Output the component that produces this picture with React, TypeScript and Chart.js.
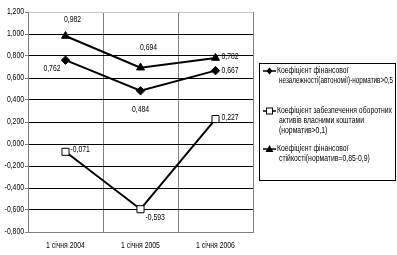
import React, { useEffect, useRef } from "react";
import { Chart, registerables } from "chart.js";

Chart.register(...registerables);

const categories = ["1 січня 2004", "1 січня 2005", "1 січня 2006"];
const autonomy = [0.762, 0.484, 0.667];
const workingCapital = [-0.071, -0.593, 0.227];
const stability = [0.982, 0.694, 0.782];
const seriesNames = [
  ["Коефіцієнт фінансової", "незалежності(автономії)-норматив>0,5"],
  ["Коефіцієнт забезпечення оборотних", "активів власними коштами", "(норматив>0,1)"],
  ["Коефіцієнт фінансової", "стійкості(норматив=0,85-0,9)"],
];

const FONT = '"Liberation Sans", Arial, sans-serif';
const SX = 0.76;

// label placement: [dx, dy, align]
const labelPos: [number, number, CanvasTextAlign][][] = [
  [[-5, 8, "right"], [0, 19, "center"], [6, 0, "left"]],
  [[5, -2, "left"], [5, 8, "left"], [6, -2, "left"]],
  [[7, -16, "center"], [8, -20, "center"], [6, -1, "left"]],
];

const fmt = (v: number) => v.toFixed(3).replace(".", ",");

function narrowText(ctx: CanvasRenderingContext2D, text: string, x: number, y: number, align: CanvasTextAlign, sx = SX) {
  ctx.save();
  ctx.translate(x, y);
  ctx.scale(sx, 1);
  ctx.textAlign = align;
  ctx.fillText(text, 0, 0);
  ctx.restore();
}

const textPlugin = {
  id: "texts",
  afterDatasetsDraw(chart: any) {
    const ctx = chart.ctx;
    ctx.save();
    ctx.font = `9px ${FONT}`;
    ctx.fillStyle = "#000";
    ctx.textBaseline = "middle";
    chart.data.datasets.forEach((ds: any, i: number) => {
      const meta = chart.getDatasetMeta(i);
      meta.data.forEach((pt: any, j: number) => {
        const [dx, dy, al] = labelPos[i][j];
        narrowText(ctx, fmt(ds.data[j]), pt.x + dx, pt.y + dy, al);
      });
    });
    const xs = chart.scales.x;
    const ys = chart.scales.y;
    xs.ticks.forEach((t: any, k: number) => {
      narrowText(ctx, String(chart.data.labels[k]), xs.getPixelForTick(k), 246, "center");
    });
    ys.ticks.forEach((t: any, k: number) => {
      narrowText(ctx, fmt(t.value), ys.left + 24, ys.getPixelForTick(k), "right");
    });
    ctx.restore();
  },
  afterDraw(chart: any) {
    const ctx = chart.ctx;
    ctx.save();
    const x0 = 259.5, y0 = 63.5, x1 = 395.5, y1 = 180.5;
    ctx.strokeStyle = "#000";
    ctx.lineWidth = 1;
    ctx.strokeRect(x0, y0, x1 - x0, y1 - y0);
    const starts = [71, 111, 149];
    ctx.font = `9px ${FONT}`;
    ctx.textBaseline = "middle";
    ctx.fillStyle = "#000";
    chart.data.datasets.forEach((ds: any, i: number) => {
      const y = starts[i];
      ctx.strokeStyle = "#000";
      ctx.lineWidth = 1.5;
      ctx.beginPath();
      ctx.moveTo(263, y);
      ctx.lineTo(276, y);
      ctx.stroke();
      const cx = 269.5;
      ctx.lineWidth = 1;
      if (i === 0) {
        ctx.fillStyle = "#000";
        ctx.beginPath();
        ctx.moveTo(cx, y - 3.5);
        ctx.lineTo(cx + 3, y);
        ctx.lineTo(cx, y + 3.5);
        ctx.lineTo(cx - 3, y);
        ctx.closePath();
        ctx.fill();
      } else if (i === 1) {
        ctx.fillStyle = "#fff";
        ctx.fillRect(cx - 3, y - 3, 6, 6);
        ctx.strokeRect(cx - 3, y - 3, 6, 6);
      } else {
        ctx.fillStyle = "#000";
        ctx.beginPath();
        ctx.moveTo(cx, y - 4);
        ctx.lineTo(cx + 4, y + 3);
        ctx.lineTo(cx - 4, y + 3);
        ctx.closePath();
        ctx.fill();
      }
      ctx.fillStyle = "#000";
      seriesNames[i].forEach((line, k) => {
        const tx = k === 0 ? 277 : 279;
        const w = ctx.measureText(line).width;
        const sx = Math.min(SX, (393 - tx) / w);
        narrowText(ctx, line, tx, y + k * 10, "left", sx);
      });
    });
    ctx.restore();
  },
};

export default function App() {
  const ref = useRef<HTMLCanvasElement>(null);
  useEffect(() => {
    if (!ref.current) return;
    const common = {
      borderColor: "#000",
      borderWidth: 2,
      pointBorderColor: "#000",
      pointBorderWidth: 1,
      tension: 0,
    };
    const chart = new Chart(ref.current, {
      type: "line",
      data: {
        labels: categories,
        datasets: [
          {
            ...common,
            label: seriesNames[0].join(" "),
            data: autonomy,
            pointStyle: "rectRot",
            pointRadius: 4.2,
            pointBackgroundColor: "#000",
          },
          {
            ...common,
            label: seriesNames[1].join(" "),
            data: workingCapital,
            pointStyle: "rect",
            pointRadius: 5,
            pointBackgroundColor: "#fff",
          },
          {
            ...common,
            label: seriesNames[2].join(" "),
            data: stability,
            pointStyle: "triangle",
            pointRadius: 4.6,
            pointBackgroundColor: "#000",
          },
        ],
      },
      options: {
        animation: false,
        responsive: false,
        maintainAspectRatio: false,
        layout: { padding: { top: 12, right: 144, bottom: 0, left: 0 } },
        plugins: { legend: { display: false }, tooltip: { enabled: false } },
        scales: {
          x: {
            offset: true,
            grid: { offset: true, color: "#808080", lineWidth: 1, drawTicks: false },
            border: { color: "#808080" },
            ticks: { display: false },
            afterFit(s: any) { s.height = 23; },
          },
          y: {
            min: -0.8,
            max: 1.2,
            grid: {
              color: (c: any) => (c.tick && Math.abs(c.tick.value - 1.2) < 1e-6 ? "#c8c8c8" : "#000"),
              lineWidth: 1,
              drawTicks: true,
              tickLength: 3,
              tickColor: "#808080",
            },
            border: { color: "#808080" },
            ticks: { display: false, stepSize: 0.2 },
            afterFit(s: any) { s.width = 28; },
          },
        },
      },
      plugins: [textPlugin],
    } as any);
    return () => chart.destroy();
  }, []);
  return (
    <div style={{ position: "fixed", left: 0, top: 0, width: 397, height: 255, background: "#fff" }}>
      <canvas ref={ref} width={397} height={255} style={{ width: 397, height: 255 }} />
    </div>
  );
}
